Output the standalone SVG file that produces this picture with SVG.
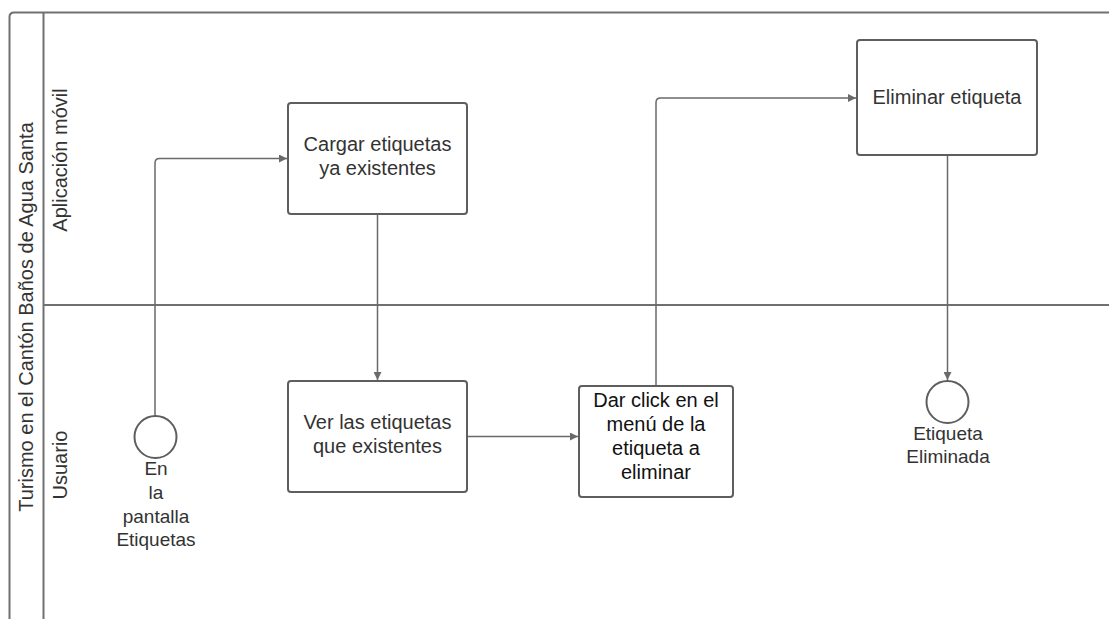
<svg xmlns="http://www.w3.org/2000/svg" width="1109" height="619" viewBox="0 0 1109 619">
  <style>
    .pool { fill: none; stroke: #707070; stroke-width: 2; }
    .task { fill: #ffffff; stroke: #5e5e5e; stroke-width: 2; }
    .event { fill: #ffffff; stroke: #5e5e5e; stroke-width: 2; }
    .edge { fill: none; stroke: #6a6a6a; stroke-width: 1.5; stroke-linejoin: round; }
    .lbl { font-family: "Liberation Sans", Arial, sans-serif; font-size: 20px; fill: #333333; text-anchor: middle; }
    .dark { fill: #111111; }
    .evt { font-size: 19px; }
  </style>
  <defs>
    <marker id="arrow" viewBox="0 0 10 10" refX="10" refY="5" markerWidth="10" markerHeight="8" markerUnits="userSpaceOnUse" orient="auto">
      <path d="M0,0 L10,5 L0,10 Z" fill="#6a6a6a"/>
    </marker>
  </defs>

  <rect width="1109" height="619" fill="#ffffff"/>

  <!-- pool and lanes -->
  <g id="pool">
    <path class="pool" d="M1109,12.5 L14,12.5 Q9.5,12.5 9.5,17 L9.5,619"/>
    <line class="pool" x1="43.5" y1="12.5" x2="43.5" y2="619"/>
    <line class="pool" x1="43.5" y1="305" x2="1109" y2="305"/>
    <text class="lbl" transform="translate(33,317) rotate(-90)">Turismo en el Cantón Baños de Agua Santa</text>
    <text class="lbl" transform="translate(67,160) rotate(-90)">Aplicación móvil</text>
    <text class="lbl" transform="translate(67,465) rotate(-90)">Usuario</text>
  </g>

  <!-- connectors -->
  <g id="connectors">
    <path class="edge" d="M155,416 L155,163 Q155,158.5 159.5,158.5 L287,158.5" marker-end="url(#arrow)"/>
    <path class="edge" d="M377.5,214 L377.5,380" marker-end="url(#arrow)"/>
    <path class="edge" d="M467,436.5 L578,436.5" marker-end="url(#arrow)"/>
    <path class="edge" d="M656,386 L656,102.5 Q656,98 660.5,98 L856,98" marker-end="url(#arrow)"/>
    <path class="edge" d="M947.5,155 L947.5,380" marker-end="url(#arrow)"/>
  </g>

  <!-- start event -->
  <g id="start">
    <circle class="event" cx="155.5" cy="437" r="21"/>
    <text class="lbl evt" x="156" y="475">En</text>
    <text class="lbl evt" x="156" y="499">la</text>
    <text class="lbl evt" x="156" y="523">pantalla</text>
    <text class="lbl evt" x="156" y="546">Etiquetas</text>
  </g>

  <!-- tasks -->
  <g id="cargar">
    <rect class="task" x="288" y="103" width="179" height="111" rx="3"/>
    <text class="lbl" x="377.5" y="151">Cargar etiquetas</text>
    <text class="lbl" x="377.5" y="175">ya existentes</text>
  </g>

  <g id="ver">
    <rect class="task" x="288" y="381" width="179" height="111" rx="3"/>
    <text class="lbl" x="377.5" y="429">Ver las etiquetas</text>
    <text class="lbl" x="377.5" y="453">que existentes</text>
  </g>

  <g id="dar-click">
    <rect class="task" x="579" y="386" width="154" height="111" rx="3"/>
    <text class="lbl dark" x="656" y="407">Dar click en el</text>
    <text class="lbl dark" x="656" y="431">menú de la</text>
    <text class="lbl dark" x="656" y="455">etiqueta a</text>
    <text class="lbl dark" x="656" y="479">eliminar</text>
  </g>

  <g id="eliminar">
    <rect class="task" x="857" y="40" width="180" height="115" rx="3"/>
    <text class="lbl" x="947" y="104">Eliminar etiqueta</text>
  </g>

  <!-- end event -->
  <g id="end">
    <circle class="event" cx="947.5" cy="402" r="21"/>
    <text class="lbl evt" x="948" y="440">Etiqueta</text>
    <text class="lbl evt" x="948" y="463">Eliminada</text>
  </g>
</svg>
